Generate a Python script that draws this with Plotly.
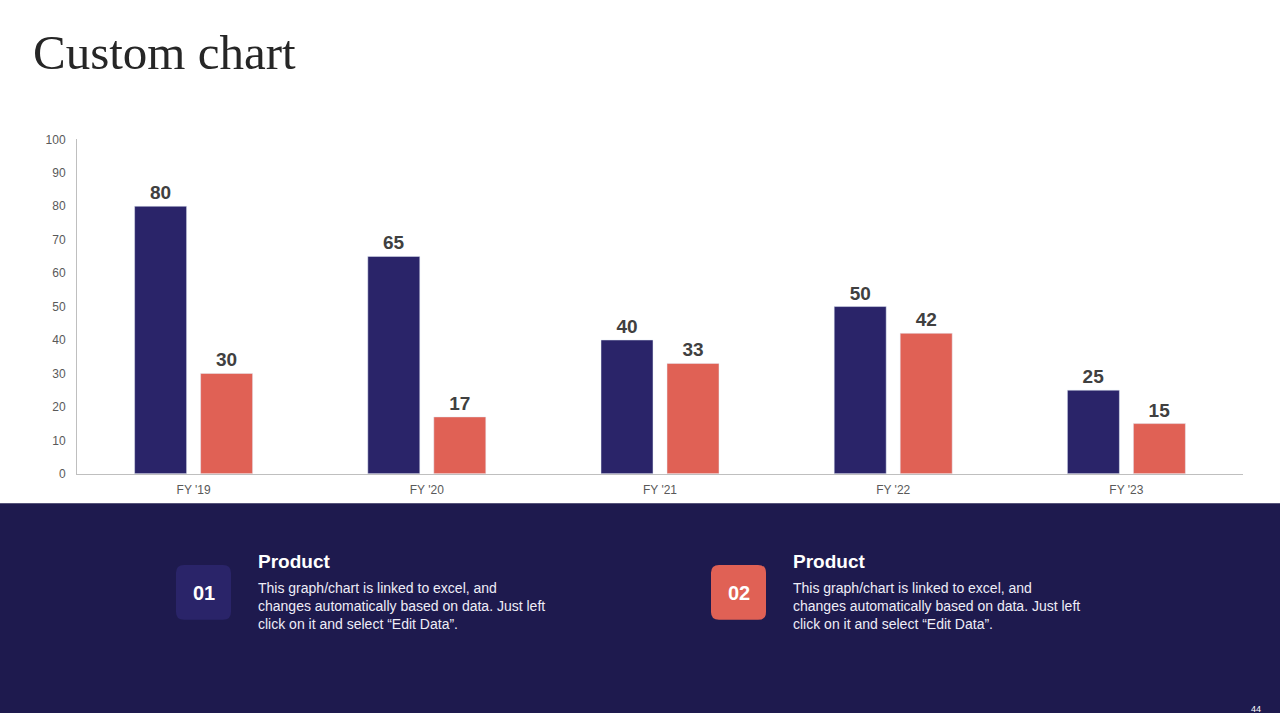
import plotly.graph_objects as go

categories = ["FY '19", "FY '20", "FY '21", "FY '22", "FY '23"]
series_1 = [80, 65, 40, 50, 25]
series_2 = [30, 17, 33, 42, 15]
y_ticks = [0, 10, 20, 30, 40, 50, 60, 70, 80, 90, 100]

NAVY = "#2A2469"
RED = "#E06155"
PANEL = "#1E1A4E"
W, H = 1280, 720


def px(x):
    return x / W


def py(y):
    return 1 - y / H


def rounded_rect(x0, y0, x1, y1, r):
    X0, X1 = px(x0), px(x1)
    Y0, Y1 = py(y0), py(y1)
    rx, ry = r / W, r / H
    return (f"M {X0+rx},{Y0} L {X1-rx},{Y0} Q {X1},{Y0} {X1},{Y0-ry} "
            f"L {X1},{Y1+ry} Q {X1},{Y1} {X1-rx},{Y1} L {X0+rx},{Y1} "
            f"Q {X0},{Y1} {X0},{Y1+ry} L {X0},{Y0-ry} Q {X0},{Y0} {X0+rx},{Y0} Z")


fig = go.Figure()
label_font = dict(family="Liberation Sans, Arial", size=19, color="#404040")
fig.add_trace(go.Bar(x=categories, y=series_1, marker_color=NAVY,
                     text=[f"<b>{v}</b>" for v in series_1],
                     textposition="outside", textfont=label_font, cliponaxis=False))
fig.add_trace(go.Bar(x=categories, y=series_2, marker_color=RED,
                     text=[f"<b>{v}</b>" for v in series_2],
                     textposition="outside", textfont=label_font, cliponaxis=False))

fig.update_layout(
    width=W, height=H,
    margin=dict(l=0, r=0, t=0, b=0),
    paper_bgcolor="white", plot_bgcolor="white",
    showlegend=False,
    barmode="group", bargap=0.434, bargroupgap=0.212,
    font=dict(family="Liberation Sans, Arial", color="#595959"),
    xaxis=dict(domain=[px(77), px(1243)], showgrid=False, showline=True,
               linecolor="#BFBFBF", linewidth=1, ticks="",
               tickfont=dict(size=12, color="#595959"), ticklabelstandoff=5),
    yaxis=dict(domain=[py(476), py(135)], range=[0, 100], tickvals=y_ticks,
               showgrid=False, showline=True, linecolor="#BFBFBF", linewidth=1,
               ticks="", zeroline=False, tickfont=dict(size=12, color="#595959"),
               ticklabelstandoff=8),
)

shapes = [
    dict(type="rect", xref="paper", yref="paper", x0=0, x1=1, y0=0, y1=py(506),
         fillcolor=PANEL, line_width=0, layer="below"),
    dict(type="path", xref="paper", yref="paper", path=rounded_rect(176, 569, 231, 625, 8),
         fillcolor=NAVY, line_width=0),
    dict(type="path", xref="paper", yref="paper", path=rounded_rect(711, 569, 766, 625, 8),
         fillcolor=RED, line_width=0),
]
fig.update_layout(shapes=shapes)

body = "This graph/chart is linked to excel, and<br>changes automatically based on data. Just left<br>click on it and select \u201cEdit Data\u201d."
TXT = "#EEEDF7"
ann = [
    dict(text="Custom chart", x=px(31), y=py(46), xanchor="left",
         font=dict(family="Liberation Serif, DejaVu Serif, serif", size=49, color="#262626")),
    dict(text="<b>01</b>", x=px(203.5), y=py(598), xanchor="center", font=dict(size=20, color="white")),
    dict(text="<b>02</b>", x=px(738.5), y=py(598), xanchor="center", font=dict(size=20, color="white")),
    dict(text="<b>Product</b>", x=px(256), y=py(566), xanchor="left",
         font=dict(size=19, color="white")),
    dict(text="<b>Product</b>", x=px(791), y=py(566), xanchor="left",
         font=dict(size=19, color="white")),
    dict(text=body, x=px(256), y=py(611), xanchor="left", align="left",
         font=dict(size=14, color=TXT)),
    dict(text=body, x=px(791), y=py(611), xanchor="left", align="left",
         font=dict(size=14, color=TXT)),
    dict(text="44", x=px(1256), y=py(716), xanchor="center", font=dict(size=9, color="white")),
]
for a in ann:
    a.setdefault("showarrow", False)
    a.setdefault("xref", "paper")
    a.setdefault("yref", "paper")
    a.setdefault("yanchor", "middle")
    a["font"].setdefault("family", "Liberation Sans, Arial")
fig.update_layout(annotations=ann)

fig.write_html("out.html")
